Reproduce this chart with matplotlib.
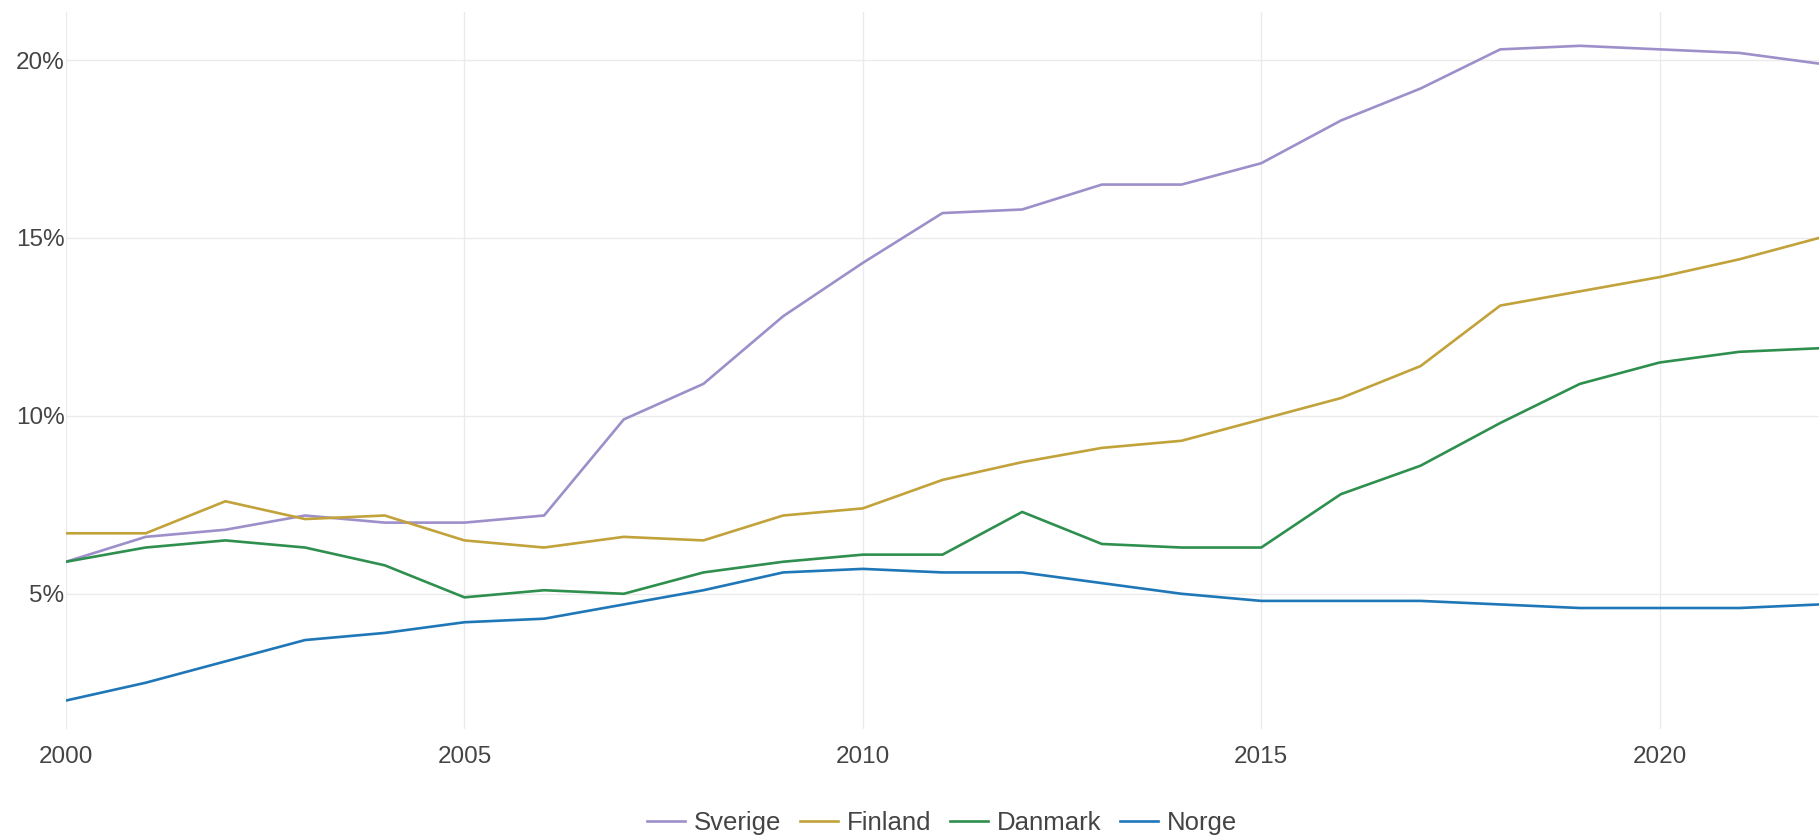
import matplotlib
matplotlib.use("Agg")
import matplotlib.pyplot as plt
from matplotlib.ticker import FuncFormatter

plt.rcParams['font.family'] = ['Liberation Sans', 'DejaVu Sans']

years = list(range(2000, 2023))

sverige = [5.9, 6.6, 6.8, 7.2, 7.0, 7.0, 7.2, 9.9, 10.9, 12.8, 14.3, 15.7,
           15.8, 16.5, 16.5, 17.1, 18.3, 19.2, 20.3, 20.4, 20.3, 20.2, 19.9]
finland = [6.7, 6.7, 7.6, 7.1, 7.2, 6.5, 6.3, 6.6, 6.5, 7.2, 7.4, 8.2,
           8.7, 9.1, 9.3, 9.9, 10.5, 11.4, 13.1, 13.5, 13.9, 14.4, 15.0]
danmark = [5.9, 6.3, 6.5, 6.3, 5.8, 4.9, 5.1, 5.0, 5.6, 5.9, 6.1, 6.1,
           7.3, 6.4, 6.3, 6.3, 7.8, 8.6, 9.8, 10.9, 11.5, 11.8, 11.9]
norge = [2.0, 2.5, 3.1, 3.7, 3.9, 4.2, 4.3, 4.7, 5.1, 5.6, 5.7, 5.6,
         5.6, 5.3, 5.0, 4.8, 4.8, 4.8, 4.7, 4.6, 4.6, 4.6, 4.7]

series = [("Sverige", sverige, "#9d8fca"),
          ("Finland", finland, "#c2a23a"),
          ("Danmark", danmark, "#2e8f4e"),
          ("Norge", norge, "#1f77b8")]

x_ticks = [2000, 2005, 2010, 2015, 2020]
y_ticks = [5, 10, 15, 20]

fig = plt.figure(figsize=(18.19, 8.35), dpi=100)
ax = fig.add_axes([66 / 1819, 1 - 729 / 835, 1 - 66 / 1819, (729 - 12) / 835])

for name, values, color in series:
    ax.plot(years, values, color=color, linewidth=1.9, label=name)

ax.set_xlim(2000, 2022)
ax.set_ylim(1.2, 21.35)
ax.set_xticks(x_ticks)
ax.set_yticks(y_ticks)
ax.yaxis.set_major_formatter(FuncFormatter(lambda v, p: f"{v:.0f}%"))

ax.grid(True, color="#ebebeb", linewidth=1.0)
ax.set_axisbelow(True)
for s in ax.spines.values():
    s.set_visible(False)
ax.tick_params(length=0, labelsize=17.5, colors="#444444")
ax.tick_params(axis='x', pad=12)
ax.tick_params(axis='y', pad=1)

# legend centred under the plot area
fig.legend(*ax.get_legend_handles_labels(), loc='center',
           bbox_to_anchor=(942 / 1819, 1 - 823 / 835), ncol=4, frameon=False,
           fontsize=18.5, handlelength=1.5, handletextpad=0.35, columnspacing=0.7,
           labelcolor="#444444")

fig.savefig("out.png", dpi=100)
